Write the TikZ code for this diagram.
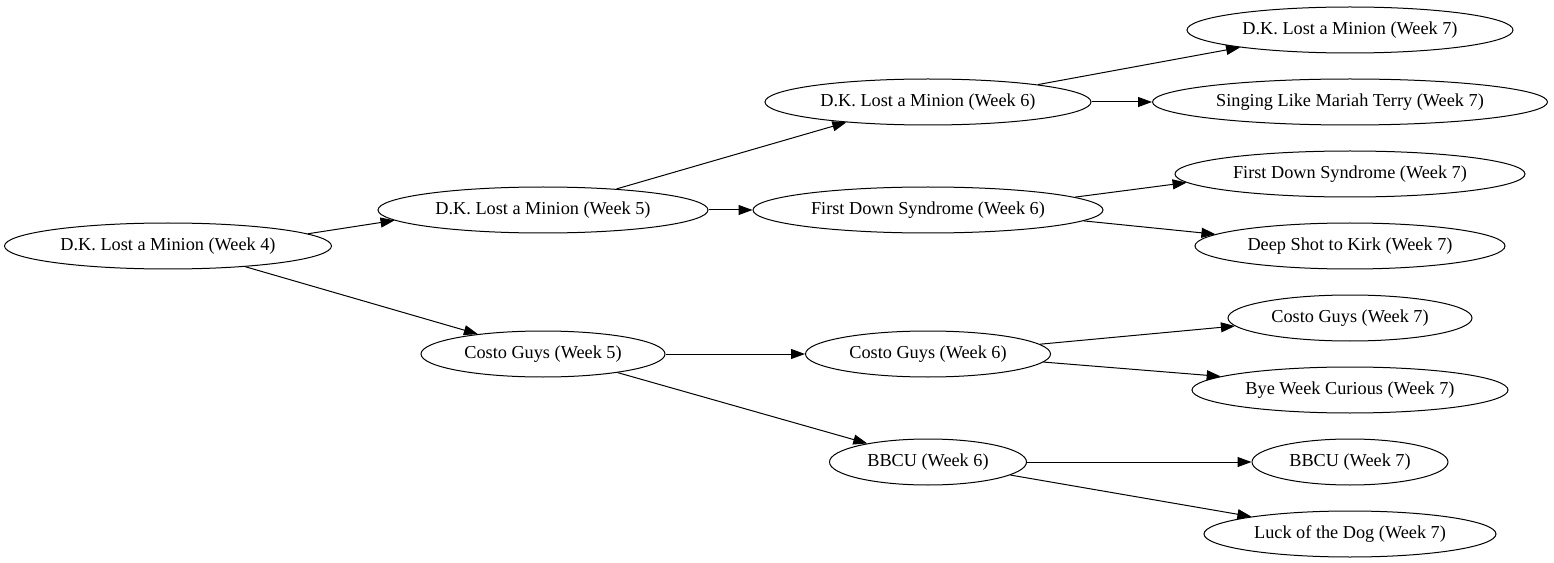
\documentclass[tikz,border=0pt]{standalone}
\usepackage{fontspec}
\setmainfont{Liberation Serif}
\usetikzlibrary{shapes.geometric,arrows.meta}
\tikzset{
  gnode/.style={draw, ellipse, inner sep=0pt, line width=0.75pt, minimum height=34.5pt, font=\fontsize{13.7}{16}\selectfont},
  garrow/.style={line width=0.75pt, -{Triangle[length=10.5pt,width=7.5pt]}}
}
\begin{document}
\begin{tikzpicture}[x=0.75pt,y=-0.75pt]
\useasboundingbox (0,0) rectangle (1554,563);
\node[gnode, minimum width=245.25pt] (w4) at (168,246) {D.K. Lost a Minion (Week 4)};
\node[gnode, minimum width=247.5pt] (w5a) at (543,210) {D.K. Lost a Minion (Week 5)};
\node[gnode, minimum width=183pt] (w5b) at (543,354) {Costo Guys (Week 5)};
\node[gnode, minimum width=244.5pt] (w6a) at (928,102) {D.K. Lost a Minion (Week 6)};
\node[gnode, minimum width=262.5pt] (w6b) at (928,210) {First Down Syndrome (Week 6)};
\node[gnode, minimum width=183.75pt] (w6c) at (928,354) {Costo Guys (Week 6)};
\node[gnode, minimum width=147.75pt] (w6d) at (928,462) {BBCU (Week 6)};
\node[gnode, minimum width=244.5pt] (w7a) at (1350,30) {D.K. Lost a Minion (Week 7)};
\node[gnode, minimum width=296.25pt] (w7b) at (1350,102) {Singing Like Mariah Terry (Week 7)};
\node[gnode, minimum width=262.5pt] (w7c) at (1350,174) {First Down Syndrome (Week 7)};
\node[gnode, minimum width=232.5pt] (w7d) at (1350,246) {Deep Shot to Kirk (Week 7)};
\node[gnode, minimum width=183pt] (w7e) at (1350,318) {Costo Guys (Week 7)};
\node[gnode, minimum width=237pt] (w7f) at (1350,390) {Bye Week Curious (Week 7)};
\node[gnode, minimum width=147pt] (w7g) at (1350,462) {BBCU (Week 7)};
\node[gnode, minimum width=219pt] (w7h) at (1350,534) {Luck of the Dog (Week 7)};

\draw[garrow] (w4.5.75) -- (w5a.184.5);
\draw[garrow] (w4.-15.9) -- (w5b.163.5);
\draw[garrow] (w5a.16.6) -- (w6a.194.7);
\draw[garrow] (w5a.east) -- (w6b.west);
\draw[garrow] (w5b.east) -- (w6c.west);
\draw[garrow] (w5b.-14.4) -- (w6d.163.1);
\draw[garrow] (w6a.9.9) -- (w7a.189);
\draw[garrow] (w6a.east) -- (w7b.west);
\draw[garrow] (w6b.5.3) -- (w7c.183.8);
\draw[garrow] (w6b.-4.2) -- (w7d.175);
\draw[garrow] (w6c.5.5) -- (w7e.184.2);
\draw[garrow] (w6c.-4) -- (w7f.174.6);
\draw[garrow] (w6d.east) -- (w7g.west);
\draw[garrow] (w6d.-9) -- (w7h.170.6);
\end{tikzpicture}
\end{document}
